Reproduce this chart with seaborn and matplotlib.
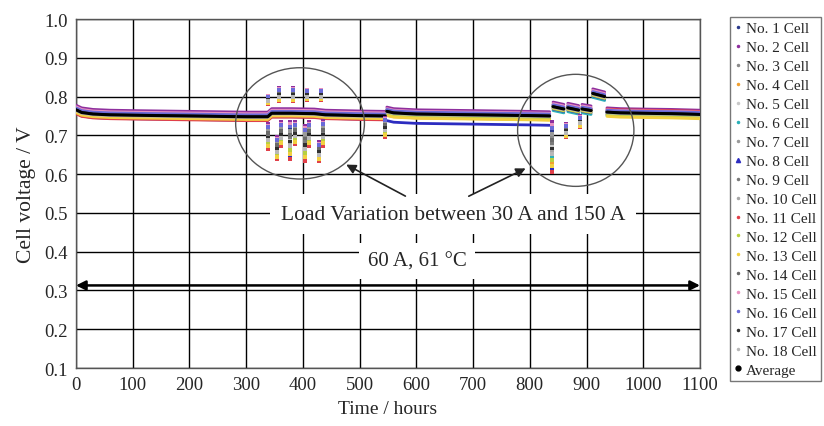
"""Cell voltage of an 18-cell stack during a 1100 h durability run."""
import matplotlib
matplotlib.use("Agg")
import matplotlib.pyplot as plt
from matplotlib.lines import Line2D
from matplotlib.patches import Ellipse
import numpy as np
import pandas as pd
import seaborn as sns

CELL_LABELS = [f"No. {i} Cell" for i in range(1, 19)]
CELL_COLORS = [
    "#2b3a8c", "#8e2f9e", "#8a8a8a", "#f0a030", "#c8c8c8", "#2ab0b8",
    "#9a9a9a", "#2c2cc0", "#7a7a7a", "#a8a8a8", "#e0404a", "#b8d040",
    "#f2d040", "#6a6a6a", "#e890c0", "#6a6ad8", "#303030", "#b8b8b8",
]
CELL_MARKERS = ["."] * 7 + ["^"] + ["."] * 10

# per-cell offsets from the stack average
OFFSET_EARLY = [0.004, 0.012, 0.002, -0.006, 0.000, -0.004, 0.003, -0.009, 0.001,
                -0.001, -0.010, -0.005, -0.007, 0.002, 0.008, 0.005, 0.000, -0.002]
OFFSET_MID = [0.004, 0.011, 0.002, -0.010, 0.000, -0.005, 0.003, -0.024, 0.001,
              -0.001, -0.004, -0.007, -0.011, 0.002, 0.007, 0.005, 0.000, -0.002]
OFFSET_LOAD = [0.004, 0.012, 0.002, -0.004, 0.000, -0.010, 0.003, -0.006, 0.001,
               -0.001, 0.006, -0.005, -0.003, 0.002, 0.008, 0.005, 0.000, -0.002]
OFFSET_LATE = [0.004, 0.011, 0.002, -0.006, 0.000, -0.009, 0.003, -0.004, 0.001,
               -0.001, 0.008, -0.007, -0.011, 0.002, 0.006, 0.005, 0.000, -0.002]

# stack average, split where the load changes
SEG_A_T = [0, 10, 30, 60, 100, 150, 200, 250, 300, 338, 345, 380, 420, 440, 470, 500, 545]
SEG_A_V = [0.766, 0.759, 0.755, 0.753, 0.752, 0.751, 0.750, 0.749, 0.748, 0.748,
           0.757, 0.757, 0.756, 0.753, 0.752, 0.751, 0.750]
SEG_C_T = [548, 560, 600, 650, 700, 750, 800, 835]
SEG_C_V = [0.762, 0.758, 0.755, 0.754, 0.753, 0.752, 0.751, 0.750]
SEG_D_T = [841, 860]
SEG_D_V = [0.774, 0.768]
SEG_E_T = [867, 886]
SEG_E_V = [0.771, 0.765]
SEG_F_T = [892, 908]
SEG_F_V = [0.768, 0.764]
SEG_G_T = [911, 932]
SEG_G_V = [0.808, 0.800]
SEG_H_T = [936, 960, 1000, 1050, 1100]
SEG_H_V = [0.760, 0.758, 0.757, 0.756, 0.754]

# load-change transients: time, lowest and highest cell voltage
SPIKE_T = [338, 358, 383, 407, 432, 339, 355, 362, 378, 386, 404, 411, 429, 435,
           545, 839, 864, 888]
SPIKE_LO = [0.780, 0.788, 0.788, 0.790, 0.790, 0.664, 0.638, 0.672, 0.640, 0.677,
            0.633, 0.672, 0.633, 0.672, 0.695, 0.605, 0.695, 0.721]
SPIKE_HI = [0.802, 0.822, 0.822, 0.818, 0.818, 0.729, 0.695, 0.734, 0.734, 0.734,
            0.724, 0.734, 0.682, 0.736, 0.745, 0.735, 0.729, 0.749]

segments = [
    (SEG_A_T, SEG_A_V, OFFSET_EARLY),
    (SEG_C_T, SEG_C_V, OFFSET_MID),
    (SEG_D_T, SEG_D_V, OFFSET_LOAD),
    (SEG_E_T, SEG_E_V, OFFSET_LOAD),
    (SEG_F_T, SEG_F_V, OFFSET_LOAD),
    (SEG_G_T, SEG_G_V, OFFSET_LOAD),
    (SEG_H_T, SEG_H_V, OFFSET_LATE),
]

rows = []
for s, (ts, vs, offs) in enumerate(segments):
    for c, label in enumerate(CELL_LABELS):
        for t, v in zip(ts, vs):
            rows.append({"cell": label, "seg": s, "t": t, "v": v + offs[c]})
cells = pd.DataFrame(rows)

avg_rows = []
for s, (ts, vs, _) in enumerate(segments):
    for t, v in zip(ts, vs):
        avg_rows.append({"seg": s, "t": t, "v": v})
avg = pd.DataFrame(avg_rows)

rank = np.argsort(np.argsort(OFFSET_EARLY))
spike_rows = []
for t, lo, hi in zip(SPIKE_T, SPIKE_LO, SPIKE_HI):
    for c, label in enumerate(CELL_LABELS):
        spike_rows.append({"cell": label, "t": t, "v": lo + (hi - lo) * rank[c] / 17})
spikes = pd.DataFrame(spike_rows)

sns.set_theme(style="whitegrid")
plt.rcParams["font.family"] = ["Liberation Serif", "DejaVu Serif"]

fig = plt.figure(figsize=(8.24, 4.27), dpi=100)
ax = fig.add_axes([0.0922, 0.1358, 0.7573, 0.8172])
palette = dict(zip(CELL_LABELS, CELL_COLORS))

sns.lineplot(data=cells, x="t", y="v", hue="cell", units="seg", estimator=None,
             palette=palette, linewidth=2.0, legend=False, ax=ax, zorder=3)
sns.lineplot(data=avg, x="t", y="v", units="seg", estimator=None, color="black",
             linewidth=2.2, legend=False, ax=ax, zorder=4)
sns.scatterplot(data=spikes, x="t", y="v", hue="cell", palette=palette, s=8,
                marker="s", linewidth=0, legend=False, ax=ax, zorder=4)

ax.set_xlim(0, 1100)
ax.set_ylim(0.1, 1.0)
ax.set_xticks(np.arange(0, 1101, 100))
ax.set_yticks(np.arange(0.1, 1.01, 0.1))
ax.set_yticklabels([f"{y:.1f}" for y in np.arange(0.1, 1.01, 0.1)])
ax.tick_params(labelsize=13.5, length=0, pad=6)
ax.grid(True, color="black", linewidth=1.0)
ax.set_axisbelow(True)
for sp in ax.spines.values():
    sp.set_color("#555555")
    sp.set_linewidth(1.0)
ax.set_facecolor("white")
ax.set_xlabel("Time / hours", fontsize=14, labelpad=5)
ax.set_ylabel("Cell voltage / V", fontsize=15.5, labelpad=6)

for cx, cy, w, h in [(395, 0.731, 227, 0.287), (881, 0.713, 205, 0.289)]:
    ax.add_patch(Ellipse((cx, cy), w, h, fill=False, edgecolor="#555555",
                         linewidth=1.0, zorder=5))

ax.text(665, 0.497, "Load Variation between 30 A and 150 A", fontsize=15.5,
        ha="center", va="center", zorder=6,
        bbox=dict(boxstyle="square,pad=0.5", facecolor="white", edgecolor="none"))
ax.text(601, 0.376, "60 A, 61 \u00b0C", fontsize=15, ha="center", va="center",
        zorder=6,
        bbox=dict(boxstyle="square,pad=0.4", facecolor="white", edgecolor="none"))

arrow = dict(arrowstyle="-|>", color="#222222", lw=1.2, mutation_scale=14)
ax.annotate("", xy=(472, 0.628), xytext=(585, 0.540), arrowprops=arrow, zorder=6)
ax.annotate("", xy=(797, 0.618), xytext=(688, 0.540), arrowprops=arrow, zorder=6)
ax.annotate("", xy=(1100, 0.313), xytext=(0, 0.313),
            arrowprops=dict(arrowstyle="<|-|>", color="black", lw=1.8,
                            mutation_scale=14, shrinkA=0, shrinkB=0), zorder=6)

handles = [Line2D([], [], linestyle="none", marker=m, color=c, markersize=3)
           for m, c in zip(CELL_MARKERS, CELL_COLORS)]
handles.append(Line2D([], [], linestyle="none", marker="o", color="black", markersize=3.5))
leg = fig.legend(handles, CELL_LABELS + ["Average"], loc="upper left",
                 bbox_to_anchor=(0.886, 0.958), fontsize=11, frameon=True,
                 fancybox=False, framealpha=1, edgecolor="#777777",
                 handlelength=0.45, handletextpad=0.3, labelspacing=0.345,
                 borderpad=0.3, borderaxespad=0)
leg.get_frame().set_linewidth(1.0)

fig.savefig("out.png", dpi=100, facecolor="white")
